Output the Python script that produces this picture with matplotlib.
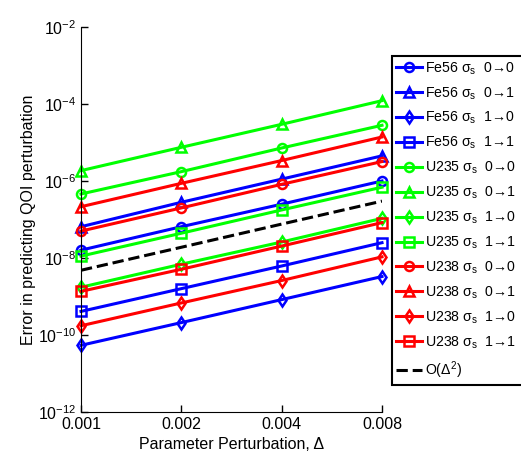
import numpy as np
import matplotlib
matplotlib.use('Agg')
import matplotlib.pyplot as plt
from matplotlib.ticker import FixedLocator, FixedFormatter, LogFormatterSciNotation, NullLocator

plt.rcParams['font.family'] = ['Liberation Sans', 'DejaVu Sans']
plt.rcParams['mathtext.fontset'] = 'custom'
plt.rcParams['mathtext.rm'] = 'Liberation Sans'
plt.rcParams['mathtext.it'] = 'Liberation Sans:italic'
plt.rcParams['mathtext.bf'] = 'Liberation Sans:bold'

# perturbation sizes
delta = [0.001, 0.002, 0.004, 0.008]

# errors
fe56_00 = [1.6e-8, 6.5e-8, 2.5e-7, 1.0e-6]
fe56_01 = [6.5e-8, 2.8e-7, 1.12e-6, 4.5e-6]
fe56_10 = [5.4e-11, 2.1e-10, 8.3e-10, 3.3e-9]
fe56_11 = [4.1e-10, 1.6e-9, 6.2e-9, 2.5e-8]
u235_00 = [4.6e-7, 1.75e-6, 7.2e-6, 2.8e-5]
u235_01 = [1.86e-6, 7.5e-6, 2.97e-5, 1.22e-4]
u235_10 = [1.74e-9, 6.9e-9, 2.6e-8, 1.07e-7]
u235_11 = [1.12e-8, 4.4e-8, 1.77e-7, 6.9e-7]
u238_00 = [5.0e-8, 2.0e-7, 8.2e-7, 3.2e-6]
u238_01 = [2.15e-7, 8.7e-7, 3.4e-6, 1.39e-5]
u238_10 = [1.74e-10, 6.8e-10, 2.6e-9, 1.07e-8]
u238_11 = [1.36e-9, 5.1e-9, 2.04e-8, 8.3e-8]
order2 = [4.8e-9, 1.9e-8, 7.6e-8, 3.0e-7]

series = [
    ('Fe56', '0', '0', fe56_00, 'blue', 'o'),
    ('Fe56', '0', '1', fe56_01, 'blue', '^'),
    ('Fe56', '1', '0', fe56_10, 'blue', 'd'),
    ('Fe56', '1', '1', fe56_11, 'blue', 's'),
    ('U235', '0', '0', u235_00, '#00ff00', 'o'),
    ('U235', '0', '1', u235_01, '#00ff00', '^'),
    ('U235', '1', '0', u235_10, '#00ff00', 'd'),
    ('U235', '1', '1', u235_11, '#00ff00', 's'),
    ('U238', '0', '0', u238_00, 'red', 'o'),
    ('U238', '0', '1', u238_01, 'red', '^'),
    ('U238', '1', '0', u238_10, 'red', 'd'),
    ('U238', '1', '1', u238_11, 'red', 's'),
]

fig = plt.figure(figsize=(5.21, 4.55), dpi=100)
ax = fig.add_axes([81 / 521, 1 - 412 / 455, (382 - 81) / 521, (412 - 27) / 455])

for iso, a, b, vals, col, mk in series:
    # trailing spaces push the legend frame past the right edge, as in the original
    label = iso + ' \u03c3$_\\mathrm{s}$  ' + a + '\u2192' + b + '    '
    ax.plot(delta, vals, color=col, marker=mk, lw=2.2, ms=6.5,
            mfc='none', mew=1.8, label=label, clip_on=False)
ax.plot(delta, order2, 'k--', lw=2.2, label=r'O($\Delta^2$)')

ax.set_xscale('log')
ax.set_yscale('log')
ax.set_xlim(0.001, 0.008)
ax.set_ylim(1e-12, 1e-2)
ax.xaxis.set_major_locator(FixedLocator(delta))
ax.xaxis.set_major_formatter(FixedFormatter(['0.001', '0.002', '0.004', '0.008']))
ax.xaxis.set_minor_locator(NullLocator())
ax.yaxis.set_major_locator(FixedLocator([1e-12, 1e-10, 1e-8, 1e-6, 1e-4, 1e-2]))
ax.yaxis.set_major_formatter(LogFormatterSciNotation())
ax.yaxis.set_minor_locator(NullLocator())
ax.tick_params(direction='in', length=5, width=1, labelsize=11.5)
ax.spines['top'].set_visible(False)
ax.spines['right'].set_visible(False)
ax.set_xlabel('Parameter Perturbation, \u0394', fontsize=11.5, labelpad=4)
ax.set_ylabel('Error in predicting QOI perturbation', fontsize=11.5, labelpad=1)

leg = fig.legend(loc='upper left', bbox_to_anchor=(392 / 521, 1 - 56 / 455),
                 borderaxespad=0, fontsize=10.2, handlelength=1.8, handletextpad=0.25,
                 labelspacing=0.6, fancybox=False, edgecolor='black',
                 framealpha=1, borderpad=0.3)
leg.get_frame().set_linewidth(1.5)

fig.savefig('out.png', dpi=100)
